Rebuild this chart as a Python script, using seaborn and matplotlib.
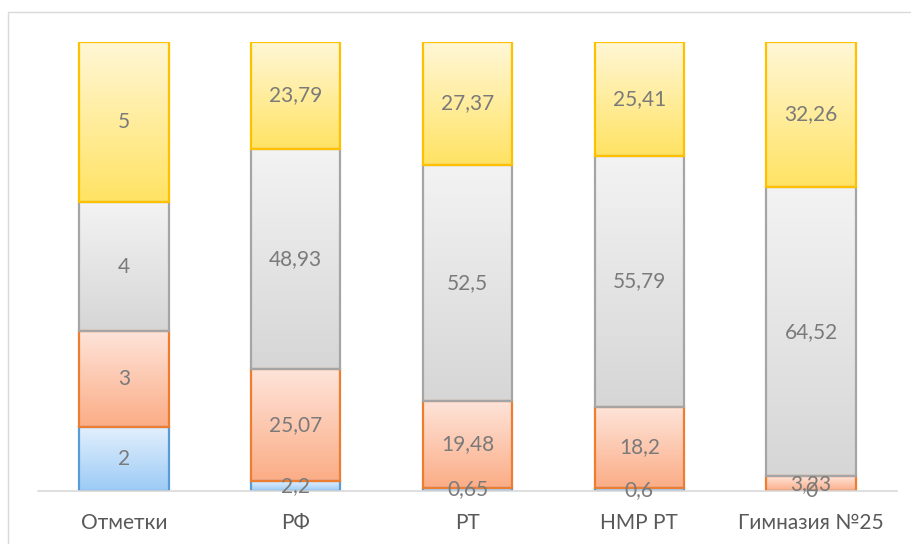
import numpy as np
import pandas as pd
import seaborn as sns
import matplotlib.pyplot as plt
from matplotlib.colors import LinearSegmentedColormap
from matplotlib.patches import Rectangle

# данные
categories = ['Отметки', 'РФ', 'РТ', 'НМР РТ', 'Гимназия №25']
grades = ['2', '3', '4', '5']
vals_2 = [2, 2.2, 0.65, 0.6, 0]
vals_3 = [3, 25.07, 19.48, 18.2, 3.23]
vals_4 = [4, 48.93, 52.5, 55.79, 64.52]
vals_5 = [5, 23.79, 27.37, 25.41, 32.26]
# подписи: для первого столбца - сами отметки
labels_2 = ['2', '2,2', '0,65', '0,6', '0']
labels_3 = ['3', '25,07', '19,48', '18,2', '3,23']
labels_4 = ['4', '48,93', '52,5', '55,79', '64,52']
labels_5 = ['5', '23,79', '27,37', '25,41', '32,26']

# цвета: верх градиента, низ градиента, рамка
styles = [
    ('#e3f0fd', '#9ccbf6', '#5b9bd5'),
    ('#fee4da', '#fbad86', '#ed7d31'),
    ('#f3f3f3', '#d6d6d6', '#a5a5a5'),
    ('#fff7d6', '#ffe364', '#ffc000'),
]

df = pd.DataFrame({'cat': categories, '2': vals_2, '3': vals_3, '4': vals_4, '5': vals_5})
totals = df[grades].sum(axis=1)
for g in grades:
    df[g + '_pct'] = df[g] / totals * 100

all_labels = [labels_2, labels_3, labels_4, labels_5]

fig = plt.figure(figsize=(9.12, 5.44), dpi=100)
ax = fig.add_axes([38 / 912, 53 / 544, 859 / 912, 449 / 544])

bottom = np.zeros(len(categories))
for i, g in enumerate(grades):
    top_c, bot_c, edge = styles[i]
    n_before = len(ax.patches)
    sns.barplot(data=df, x='cat', y=g + '_pct', bottom=bottom, width=0.52,
                color=top_c, edgecolor=edge, linewidth=1.6, ax=ax)
    bars = ax.patches[n_before:]
    cmap = LinearSegmentedColormap.from_list('g' + g, [bot_c, top_c])
    for b in bars:
        x0, y0 = b.get_x(), b.get_y()
        w, h = b.get_width(), b.get_height()
        if h <= 0:
            continue
        im = ax.imshow(np.linspace(0, 1, 100).reshape(-1, 1), cmap=cmap,
                       extent=(x0, x0 + w, y0, y0 + h), origin='lower',
                       aspect='auto', zorder=b.get_zorder() - 0.1)
        im.set_clip_path(b)
        b.set_facecolor('none')
    ax.bar_label(ax.containers[-1], labels=all_labels[i], label_type='center',
                 color='#7a7a7a', fontsize=15, family='Lato')
    bottom = bottom + df[g + '_pct'].values

ax.set_xlim(-0.5, len(categories) - 0.5)
ax.set_ylim(0, 100)
ax.set_xlabel('')
ax.set_ylabel('')
ax.set_yticks([])
for s in ['top', 'right', 'left']:
    ax.spines[s].set_visible(False)
ax.spines['bottom'].set_color('#d9d9d9')
ax.spines['bottom'].set_linewidth(1.2)
ax.tick_params(axis='x', length=0, pad=16, labelsize=15, labelcolor='#595959')
for t in ax.get_xticklabels():
    t.set_family('Lato')

# рамка области диаграммы
fig.patches.append(Rectangle((8 / 912, -0.02), 1.0, 1 - 12 / 544 + 0.02,
                             transform=fig.transFigure, fill=False,
                             edgecolor='#d9d9d9', linewidth=1.0))

fig.savefig('out.png', dpi=100)
